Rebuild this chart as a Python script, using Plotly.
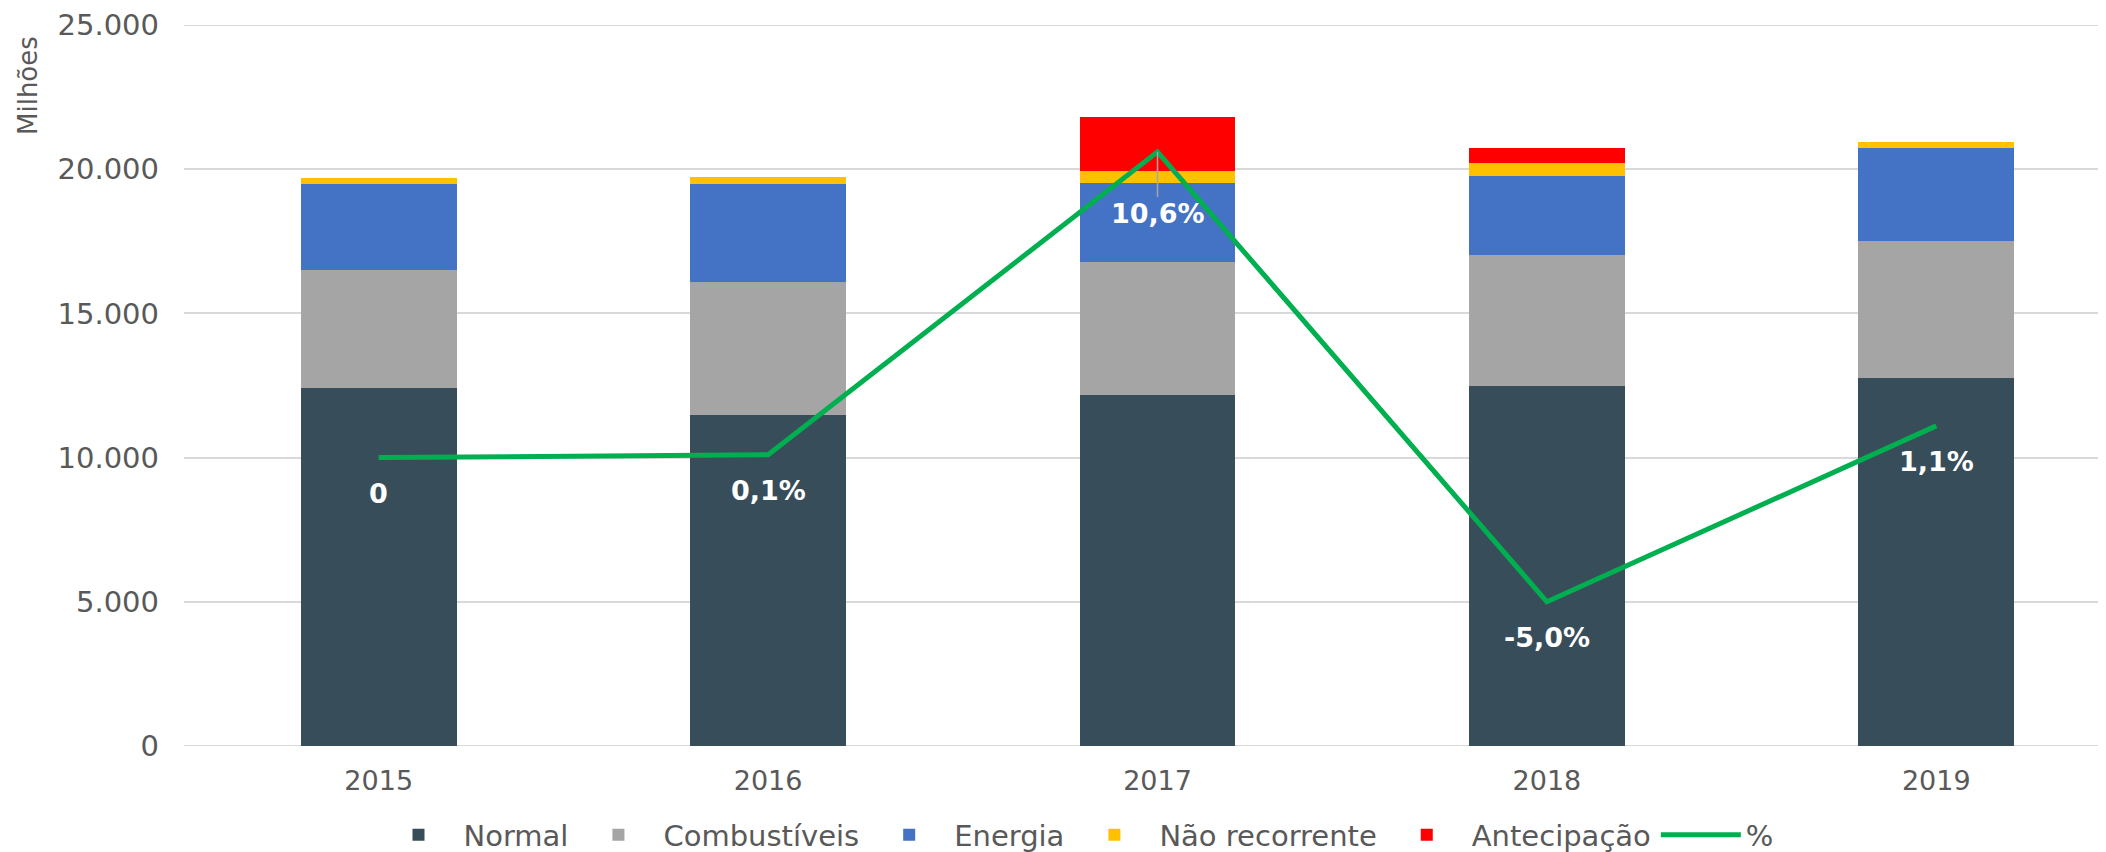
import plotly.graph_objects as go

years = ["2015", "2016", "2017", "2018", "2019"]
normal = [12420, 11480, 12180, 12500, 12770]
combustiveis = [4070, 4610, 4610, 4520, 4750]
energia = [3010, 3400, 2740, 2740, 3230]
nao_recorrente = [190, 230, 410, 440, 190]
antecipacao = [0, 0, 1880, 520, 0]
pct = [0.0, 0.1, 10.6, -5.0, 1.1]
pct_labels = ["0", "0,1%", "10,6%", "-5,0%", "1,1%"]
y_ticks = [0, 5000, 10000, 15000, 20000, 25000]

FONT = "DejaVu Sans"
GRAY = "#595959"
GRID = "#D9D9D9"

# page body has an 8px margin; figure sized to fit the window
W, H = 2098, 844
L, T = 176, 17
B = 106

fig = go.Figure()
series = [
    ("Normal", normal, "#374D59"),
    ("Combustíveis", combustiveis, "#A5A5A5"),
    ("Energia", energia, "#4472C4"),
    ("Não recorrente", nao_recorrente, "#FFC000"),
    ("Antecipação", antecipacao, "#FF0000"),
]
for name, vals, col in series:
    fig.add_trace(go.Bar(x=years, y=vals, name=name, marker=dict(color=col, line=dict(width=0)),
                         width=0.4))

fig.add_trace(go.Scatter(x=years, y=pct, name="%", mode="lines", yaxis="y2",
                         line=dict(color="#00B050", width=5)))

annotations = []
for i, (v, lab) in enumerate(zip(pct, pct_labels)):
    if lab == "10,6%":
        annotations.append(dict(x=i, y=v, xref="x", yref="y2", text=f"<b>{lab}</b>",
                                showarrow=True, ax=0, ay=62, arrowhead=0, arrowwidth=1.5,
                                arrowcolor="#A6A6A6", font=dict(family=FONT, size=27, color="white")))
    else:
        annotations.append(dict(x=i, y=v, xref="x", yref="y2", text=f"<b>{lab}</b>",
                                showarrow=False, yshift=-36,
                                font=dict(family=FONT, size=27, color="white")))

annotations.append(dict(x=(28 - 184) / 1922, y=(746 - 86) / 721, xref="paper", yref="paper",
                        text="Milhões", showarrow=False, textangle=-90,
                        xanchor="center", yanchor="middle",
                        font=dict(family=FONT, size=26, color=GRAY)))

shapes = [dict(type="line", xref="paper", x0=0, x1=1, yref="y", y0=v, y1=v, layer="below",
               line=dict(color=GRID, width=2)) for v in (y_ticks[0], y_ticks[-1])]

fig.update_layout(
    width=W, height=H,
    barmode="stack",
    separators=",.",
    plot_bgcolor="white", paper_bgcolor="white",
    margin=dict(l=L, r=0, t=T, b=B, autoexpand=False),
    font=dict(family=FONT, size=27, color=GRAY),
    xaxis=dict(type="category", range=[-0.5, -0.5 + 1922 / 389.4], showgrid=False,
               showline=False, zeroline=False, ticks="", ticklabelstandoff=16,
               tickfont=dict(size=27, color=GRAY)),
    yaxis=dict(range=[0, 25000], tickvals=y_ticks, tickformat=",d", showgrid=True,
               gridcolor=GRID, gridwidth=2, zeroline=False, showline=False,
               ticklabelstandoff=24, tickfont=dict(size=29, color=GRAY)),
    yaxis2=dict(range=[-10, 15], overlaying="y", side="right", visible=False,
                showgrid=False, zeroline=False),
    legend=dict(orientation="h", x=(1076 - 184) / 1922, xanchor="center",
                y=(746 - 835) / 721, yanchor="middle", traceorder="normal",
                font=dict(family=FONT, size=29, color=GRAY), itemwidth=80),
    annotations=annotations,
    shapes=shapes,
    showlegend=True,
)

fig.write_html("out.html")
